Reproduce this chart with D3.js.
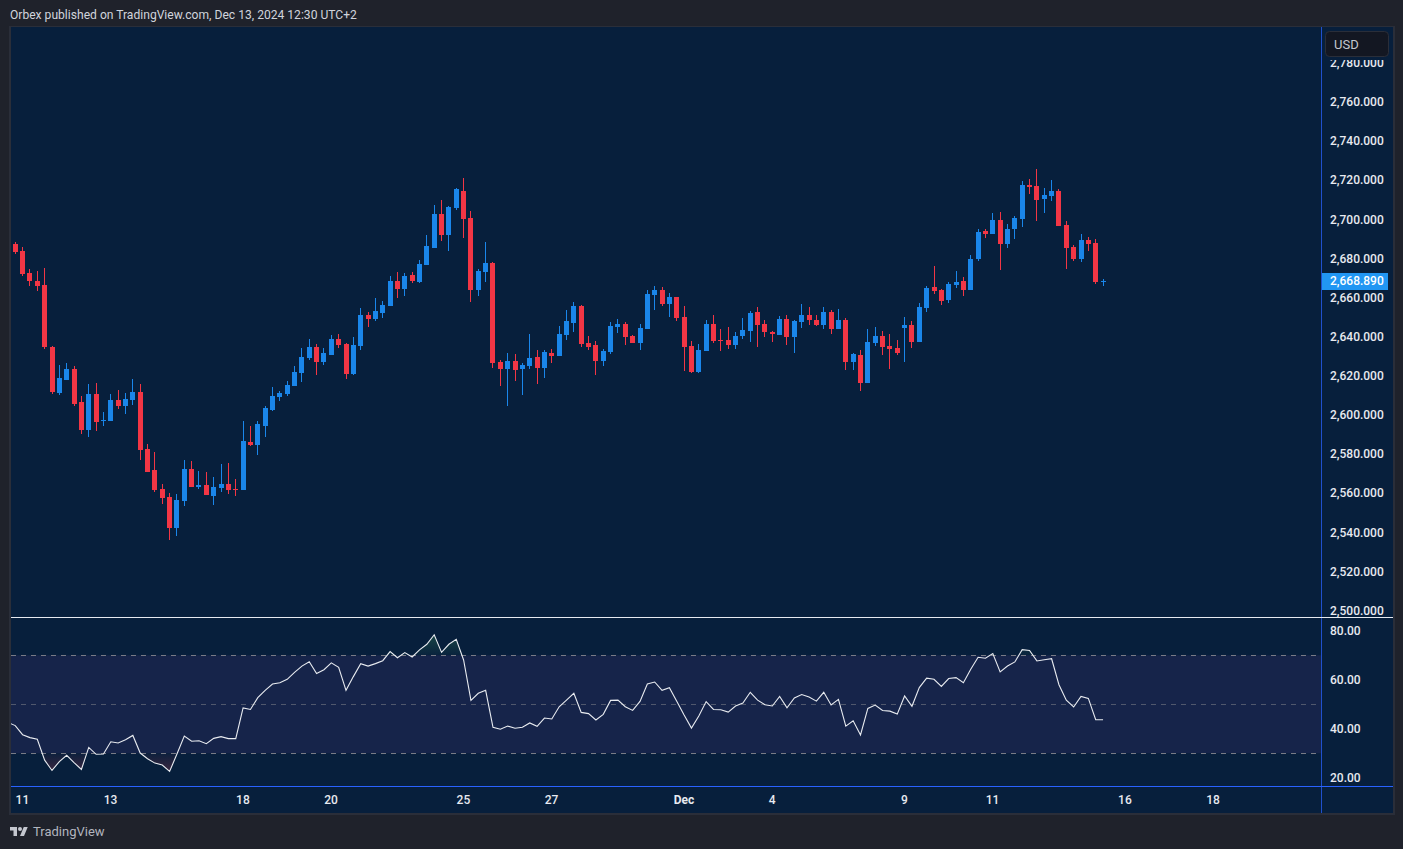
<!DOCTYPE html>
<html>
<head>
<meta charset="utf-8">
<script src="https://cdn.jsdelivr.net/npm/d3@7"></script>
<style>
  html, body { margin: 0; padding: 0; background: #1f222b; overflow: hidden; }
  text { font-family: Roboto, sans-serif; }
</style>
</head>
<body>
<script>
//4H candles
var opens = [2687.8,2684.2,2672.9,2668.9,2666.8,2635.1,2611.6,2618.2,2623.9,2607.0,
  2592.7,2611.1,2597.3,2597.3,2608.0,2604.9,2608.0,2612.1,2583.0,2572.2,
  2562.5,2558.4,2542.6,2556.4,2572.8,2563.5,2564.6,2559.0,2563.0,2565.1,
  2562.5,2562.0,2586.6,2585.0,2594.7,2602.9,2609.6,2611.1,2615.2,2621.8,
  2629.5,2635.1,2627.5,2631.0,2639.2,2636.6,2621.3,2635.6,2651.5,2649.4,
  2652.5,2656.1,2668.9,2664.8,2671.9,2668.3,2677.0,2685.7,2703.1,2692.4,
  2706.2,2714.9,2701.1,2664.3,2673.5,2678.1,2627.5,2623.9,2627.9,2623.9,
  2625.4,2630.0,2624.4,2632.0,2630.5,2641.3,2647.4,2656.1,2637.2,2636.1,
  2627.9,2632.6,2645.3,2646.9,2640.7,2637.2,2644.3,2661.7,2664.2,2657.1,
  2660.7,2650.4,2635.6,2622.3,2633.1,2646.9,2638.7,2638.7,2636.1,2640.7,
  2643.3,2653.0,2646.9,2642.8,2641.2,2649.4,2640.2,2647.9,2651.5,2648.9,
  2646.4,2653.0,2644.3,2648.9,2627.4,2631.0,2616.7,2637.2,2640.7,2635.6,
  2634.6,2644.8,2646.4,2637.7,2655.0,2665.8,2664.2,2659.1,2666.8,2668.8,
  2664.2,2680.1,2694.4,2692.9,2700.0,2687.8,2695.4,2700.5,2717.9,2717.4,
  2710.8,2712.3,2714.9,2697.5,2686.2,2680.1,2689.8,2688.3,2668.3];
var highs = [2688.8,2686.2,2675.0,2674.0,2675.5,2635.6,2625.9,2626.9,2625.4,2610.1,
  2616.2,2616.7,2601.9,2611.1,2613.1,2611.6,2618.8,2616.2,2585.5,2581.4,
  2565.1,2560.5,2560.0,2577.4,2576.8,2571.7,2571.2,2568.7,2575.3,2575.8,
  2567.6,2597.3,2594.7,2597.3,2604.9,2614.7,2612.6,2617.7,2625.4,2634.6,
  2639.2,2636.6,2634.6,2641.3,2641.8,2637.2,2640.2,2655.1,2653.0,2660.2,
  2658.6,2671.4,2673.5,2672.9,2673.5,2679.6,2692.4,2707.7,2710.3,2707.2,
  2716.4,2721.5,2704.6,2675.0,2688.8,2678.6,2628.5,2632.0,2631.5,2626.9,
  2641.8,2633.6,2633.6,2634.1,2645.9,2654.0,2658.1,2656.6,2640.7,2638.2,
  2634.1,2647.9,2649.4,2647.9,2641.3,2646.9,2664.3,2666.3,2665.8,2662.7,
  2660.7,2656.1,2638.2,2636.6,2648.9,2651.5,2644.3,2645.3,2642.8,2649.9,
  2653.5,2655.6,2648.9,2643.3,2650.9,2651.5,2648.9,2657.1,2655.6,2651.5,
  2655.6,2654.0,2654.5,2649.9,2632.0,2633.6,2644.3,2645.3,2643.3,2641.7,
  2638.7,2650.4,2648.4,2657.6,2666.3,2676.5,2664.8,2668.3,2673.9,2670.9,
  2682.1,2695.4,2695.4,2703.6,2704.1,2698.0,2702.1,2720.0,2721.0,2726.1,
  2716.4,2720.5,2715.9,2699.5,2687.2,2692.9,2691.3,2690.3,2669.9];
var lows = [2682.7,2671.4,2666.3,2663.7,2634.1,2611.1,2610.6,2618.2,2604.9,2590.6,
  2589.1,2592.2,2594.7,2597.3,2603.4,2600.9,2605.5,2577.4,2571.2,2561.0,
  2554.9,2536.5,2538.5,2553.8,2563.5,2562.5,2559.5,2554.4,2561.0,2560.0,
  2559.0,2562.0,2584.5,2579.9,2589.1,2602.4,2607.5,2610.1,2615.2,2617.2,
  2628.5,2620.8,2625.9,2631.0,2634.6,2618.8,2620.8,2633.6,2645.3,2648.4,
  2649.9,2656.1,2660.2,2661.2,2667.8,2667.8,2677.0,2685.7,2689.3,2684.2,
  2705.2,2690.8,2658.1,2661.2,2668.3,2624.4,2615.2,2604.9,2617.7,2610.6,
  2623.9,2616.2,2619.3,2626.9,2630.5,2638.7,2642.8,2635.1,2633.6,2620.8,
  2625.4,2631.5,2642.3,2636.1,2637.2,2633.6,2644.3,2654.0,2656.1,2650.4,
  2648.4,2622.6,2621.8,2621.8,2633.1,2637.2,2633.1,2634.1,2634.1,2639.2,
  2637.7,2635.1,2640.2,2637.7,2641.2,2636.1,2632.0,2644.8,2646.4,2645.8,
  2644.3,2641.7,2644.3,2623.3,2623.3,2612.6,2616.7,2635.6,2631.0,2623.9,
  2631.0,2627.4,2634.6,2637.7,2653.0,2662.2,2656.6,2657.6,2665.3,2661.2,
  2664.2,2679.1,2690.8,2692.9,2674.5,2685.7,2690.3,2696.4,2713.3,2699.5,
  2703.6,2709.7,2697.0,2675.0,2679.1,2678.6,2684.2,2667.3,2666.3];
var closes = [2683.7,2672.4,2668.9,2666.3,2635.1,2612.1,2619.3,2623.9,2606.0,2592.7,
  2611.1,2596.8,2597.8,2608.0,2604.9,2608.5,2612.1,2582.5,2571.2,2562.0,
  2557.9,2542.6,2556.9,2572.8,2563.5,2564.6,2559.5,2563.5,2565.1,2562.0,
  2562.0,2587.1,2585.0,2595.8,2603.9,2610.1,2611.6,2615.7,2622.3,2630.0,
  2635.1,2627.5,2632.0,2639.2,2636.1,2621.3,2636.1,2651.5,2649.4,2653.5,
  2656.6,2668.9,2664.8,2671.4,2668.9,2677.5,2686.7,2703.1,2692.4,2706.7,
  2715.9,2700.6,2664.3,2674.0,2678.1,2626.9,2623.9,2627.9,2623.4,2625.9,
  2629.5,2624.4,2632.6,2630.5,2641.8,2648.4,2656.1,2636.6,2635.1,2627.9,
  2633.1,2645.9,2646.9,2640.2,2637.2,2644.8,2662.2,2664.3,2657.1,2660.7,
  2649.9,2635.1,2622.3,2633.6,2646.9,2638.2,2638.2,2636.1,2640.7,2643.8,
  2652.5,2646.4,2642.8,2641.7,2649.4,2640.2,2648.4,2651.5,2648.9,2646.4,
  2653.0,2644.3,2648.9,2627.4,2631.5,2616.7,2637.7,2640.7,2635.1,2634.1,
  2632.0,2646.4,2637.7,2655.6,2665.3,2663.7,2658.6,2667.3,2668.3,2664.2,
  2680.1,2693.9,2692.9,2700.0,2687.8,2695.4,2701.0,2717.9,2716.9,2710.2,
  2712.8,2714.9,2697.0,2685.7,2680.1,2689.8,2687.8,2668.3,2668.9];

//RSI, first value belongs to the bar just left of the pane
var rsiValues = [42.6,41.3,37.6,36.4,35.7,27.2,23.0,26.6,29.2,26.2,
  23.4,32.4,29.6,29.7,34.7,34.2,35.5,37.3,30.1,27.8,
  26.0,25.2,22.6,29.7,37.0,34.9,35.1,33.9,36.1,36.8,
  36.0,36.0,48.5,47.9,52.7,55.7,58.3,58.8,60.2,63.0,
  65.6,67.4,62.6,64.1,66.9,65.1,55.7,61.3,66.6,65.6,
  66.6,67.8,71.5,69.0,71.1,69.3,72.2,74.5,78.4,71.2,
  74.5,76.5,68.1,51.6,54.5,55.7,40.6,39.8,41.1,40.2,
  40.6,42.4,41.0,44.4,44.0,49.0,51.7,54.5,46.7,46.2,
  43.6,45.9,51.6,51.7,49.0,47.5,51.2,58.3,59.1,55.7,
  56.8,51.2,45.6,40.3,45.2,51.1,47.9,47.8,46.8,49.3,
  50.5,54.9,51.7,49.8,49.3,53.2,48.6,52.6,54.0,53.0,
  51.3,54.9,49.7,52.0,41.1,43.3,37.5,48.3,49.7,47.5,
  47.2,46.0,53.4,49.2,56.8,60.7,60.2,57.3,60.5,60.9,
  58.8,64.3,69.2,68.8,70.7,63.2,65.6,67.3,72.3,72.0,
  67.7,68.2,68.6,58.0,51.7,48.9,53.2,52.4,43.7,43.7];

var priceTicks = [2500,2520,2540,2560,2580,2600,2620,2640,2660,2680,2700,2720,2740,2760,2780];
var rsiTicks = [20,40,60,80];
var rsiLevels = [70,50,30];
var dateLabels = ["11","13","18","20","25","27","Dec","4","9","11","16","18"];
var dateIndexes = [1,13,31,43,61,73,91,103,121,133,151,163];
var lastPrice = 2668.89;

var upColor = "#1a86ea";
var downColor = "#f23645";
var paneColor = "#071f3c";
var left = 11, right = 1393, axisX = 1321;

var svg = d3.select("body").append("svg")
  .attr("width", 1403)
  .attr("height", 849);

//-----------------------------------------------------------------------------------
// scales
//-----------------------------------------------------------------------------------
var x = d3.scaleLinear().domain([0, 148]).range([15.25, 1103.05]);
var y = d3.scaleLinear().domain([2500, 2780]).range([611.3, 63.6]);
var rsiY = d3.scaleLinear().domain([30, 70]).range([753.3, 655.3]);

//frame and pane background
svg.append("rect").attr("x", 9).attr("y", 26).attr("width", 1386).attr("height", 789).attr("fill", "#2a2e39");
svg.append("rect").attr("x", left).attr("y", 27).attr("width", right - left).attr("height", 786).attr("fill", paneColor);

var defs = svg.append("defs");
defs.append("clipPath").attr("id", "rsiClip")
  .append("rect").attr("x", left).attr("y", 618).attr("width", axisX - left).attr("height", 168);
defs.append("clipPath").attr("id", "overClip").append("rect")
  .attr("x", left).attr("y", 618).attr("width", axisX - left).attr("height", rsiY(70) - 618);
defs.append("clipPath").attr("id", "underClip").append("rect")
  .attr("x", left).attr("y", rsiY(30)).attr("width", axisX - left).attr("height", 786 - rsiY(30));

//overbought and oversold fades, strongest away from the band
var overFade = defs.append("linearGradient").attr("id", "overFade")
  .attr("gradientUnits", "userSpaceOnUse")
  .attr("x1", 0).attr("x2", 0).attr("y1", rsiY(80)).attr("y2", rsiY(70));
overFade.append("stop").attr("offset", 0).attr("stop-color", "#2a6a50").attr("stop-opacity", 0.6);
overFade.append("stop").attr("offset", 1).attr("stop-color", "#2a6a50").attr("stop-opacity", 0.05);

var underFade = defs.append("linearGradient").attr("id", "underFade")
  .attr("gradientUnits", "userSpaceOnUse")
  .attr("x1", 0).attr("x2", 0).attr("y1", rsiY(30)).attr("y2", rsiY(20));
underFade.append("stop").attr("offset", 0).attr("stop-color", "#7a2f45").attr("stop-opacity", 0.05);
underFade.append("stop").attr("offset", 1).attr("stop-color", "#7a2f45").attr("stop-opacity", 0.6);

//-----------------------------------------------------------------------------------
// RSI pane
//-----------------------------------------------------------------------------------
var rsiPane = svg.append("g").attr("clip-path", "url(#rsiClip)");

rsiPane.append("rect")
  .attr("x", left)
  .attr("y", rsiY(70))
  .attr("width", axisX - left)
  .attr("height", rsiY(30) - rsiY(70))
  .attr("fill", "#16244a");

var rsiX = function(d, i) { return x(i - 1); };

rsiPane.append("g").attr("clip-path", "url(#overClip)").append("path")
  .datum(rsiValues)
  .attr("d", d3.area().x(rsiX).y0(rsiY(70)).y1(function(d) { return rsiY(d); }))
  .attr("fill", "url(#overFade)");
rsiPane.append("g").attr("clip-path", "url(#underClip)").append("path")
  .datum(rsiValues)
  .attr("d", d3.area().x(rsiX).y0(rsiY(30)).y1(function(d) { return rsiY(d); }))
  .attr("fill", "url(#underFade)");

rsiPane.selectAll("line.level")
  .data(rsiLevels)
  .enter().append("line")
  .attr("class", "level")
  .attr("x1", left)
  .attr("x2", axisX)
  .attr("y1", function(d) { return Math.floor(rsiY(d)) + 0.5; })
  .attr("y2", function(d) { return Math.floor(rsiY(d)) + 0.5; })
  .attr("stroke", "#787b86")
  .attr("stroke-opacity", function(d) { return d === 50 ? 0.6 : 1; })
  .attr("stroke-dasharray", "5,5");

rsiPane.append("path")
  .datum(rsiValues)
  .attr("d", d3.line().x(rsiX).y(function(d) { return rsiY(d); }))
  .attr("fill", "none")
  .attr("stroke", "#e8ebf0")
  .attr("stroke-width", 1.1);

//-----------------------------------------------------------------------------------
// candles
//-----------------------------------------------------------------------------------
var candleColor = function(d, i) { return closes[i] >= opens[i] ? upColor : downColor; };

var candles = svg.append("g").selectAll("g")
  .data(opens)
  .enter().append("g")
  .attr("fill", candleColor);

candles.append("rect")
  .attr("x", function(d, i) { return Math.floor(x(i)); })
  .attr("y", function(d, i) { return Math.round(y(highs[i])); })
  .attr("width", 1)
  .attr("height", function(d, i) { return Math.max(1, Math.round(y(lows[i])) - Math.round(y(highs[i]))); });

candles.append("rect")
  .attr("x", function(d, i) { return Math.floor(x(i)) - 2; })
  .attr("y", function(d, i) { return Math.round(y(Math.max(opens[i], closes[i]))); })
  .attr("width", 5)
  .attr("height", function(d, i) {
    return Math.max(1, Math.round(y(Math.min(opens[i], closes[i]))) - Math.round(y(Math.max(opens[i], closes[i]))));
  });

//-----------------------------------------------------------------------------------
// separators
//-----------------------------------------------------------------------------------
svg.append("rect").attr("x", axisX).attr("y", 27).attr("width", 1).attr("height", 786).attr("fill", "#2962ff").attr("fill-opacity", 0.75);
svg.append("rect").attr("x", left).attr("y", 617).attr("width", right - left).attr("height", 1).attr("fill", "#e6e9f0");
svg.append("rect").attr("x", left).attr("y", 786).attr("width", right - left).attr("height", 1).attr("fill", "#2962ff");

//-----------------------------------------------------------------------------------
// axes
//-----------------------------------------------------------------------------------
var styleAxis = function(g) {
  g.select(".domain").remove();
  g.selectAll("text")
    .attr("fill", "#e8eaf0")
    .style("font-size", "12px")
    .style("font-weight", "500")
    .style("font-family", "Roboto, sans-serif");
};

svg.append("g")
  .attr("transform", "translate(" + axisX + ",-0.9)")
  .call(d3.axisRight(y).tickValues(priceTicks).tickFormat(d3.format(",.3f")).tickSize(0).tickPadding(9))
  .call(styleAxis);

var rsiAxisScale = d3.scaleLinear().domain([20, 80]).range([777.8, 630.8]);
svg.append("g")
  .attr("transform", "translate(" + axisX + ",0)")
  .call(d3.axisRight(rsiAxisScale).tickValues(rsiTicks).tickFormat(d3.format(".2f")).tickSize(0).tickPadding(9))
  .call(styleAxis);

svg.append("g")
  .attr("transform", "translate(-0.7,792)")
  .call(d3.axisBottom(x).tickValues(dateIndexes).tickFormat(function(d, i) { return dateLabels[i]; }).tickSize(0).tickPadding(3))
  .call(styleAxis)
  .selectAll("text").filter(function(d) { return d === 91; })
  .style("font-weight", "700");

//last price tag
var lastY = Math.round(y(lastPrice));
svg.append("rect").attr("x", 1322).attr("y", lastY - 8).attr("width", 66).attr("height", 17).attr("fill", "#2196f3");
svg.append("text")
  .attr("x", 1330)
  .attr("y", lastY + 3.8)
  .attr("fill", "#ffffff")
  .style("font-size", "12px")
  .style("font-weight", "500")
  .text(d3.format(",.3f")(lastPrice));

//currency button and its backing cover the top tick
svg.append("rect")
  .attr("x", 1322).attr("y", 27).attr("width", 71).attr("height", 33).attr("fill", paneColor);
svg.append("rect")
  .attr("x", 1325.5).attr("y", 31.5).attr("width", 63).attr("height", 25).attr("rx", 4)
  .attr("fill", "#131722").attr("stroke", "#2a2e39");
svg.append("text")
  .attr("x", 1334).attr("y", 48.5)
  .attr("fill", "#c4c7cf")
  .style("font-size", "13px")
  .text("USD");

//-----------------------------------------------------------------------------------
// header and footer
//-----------------------------------------------------------------------------------
svg.append("text")
  .attr("x", 10).attr("y", 19)
  .attr("fill", "#d1d4dc")
  .style("font-size", "12.1px")
  .text("Orbex published on TradingView.com, Dec 13, 2024 12:30 UTC+2");

var logo = svg.append("g").attr("transform", "translate(10,825) scale(0.5)").attr("fill", "#c4c7cf");
logo.append("path").attr("d", "M14 22H7V11H0V4h14v18zM28 22h-8l7.5-18h8L28 22z");
logo.append("circle").attr("cx", 20).attr("cy", 8).attr("r", 4);

svg.append("text")
  .attr("x", 33).attr("y", 836)
  .attr("fill", "#b2b5be")
  .style("font-size", "13px")
  .text("TradingView");
</script>
</body>
</html>
